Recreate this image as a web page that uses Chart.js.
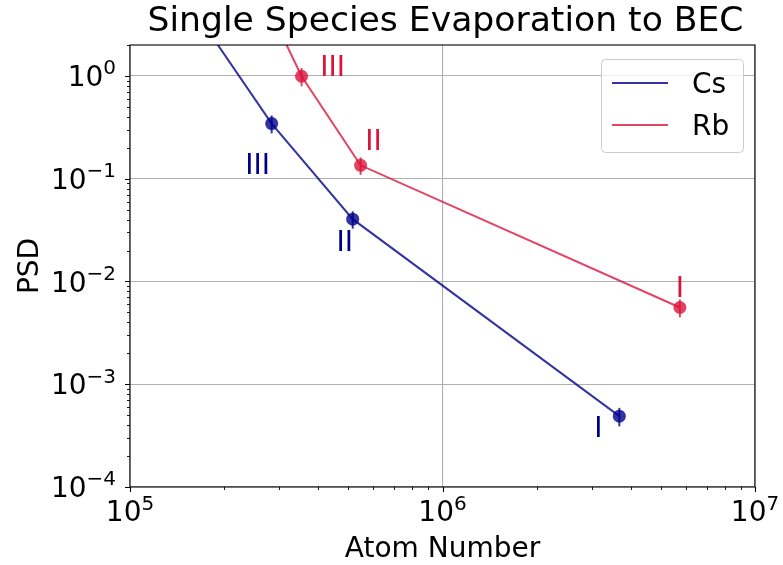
<!DOCTYPE html>
<html>
<head>
<meta charset="utf-8">
<script src="https://cdn.jsdelivr.net/npm/chart.js@4.4.1/dist/chart.umd.min.js"></script>
<style>
  html, body { margin: 0; padding: 0; background: #fff; }
  #wrap { width: 783px; height: 565px; }
</style>
</head>
<body>
<div id="wrap"><canvas id="bec"></canvas></div>
<script>
// (log-log)
const csAtoms = [1.8e5, 2.84e5, 5.16e5, 3.68e6];
const csPSD = [2.61, 0.344, 0.0404, 4.89e-4];
const csErr = [0, 0.068, 0.0078, 1.0e-4];
const rbAtoms = [3.04e5, 3.54e5, 5.47e5, 5.75e6];
const rbPSD = [2.61, 0.993, 0.135, 5.58e-3];
const rbErr = [0, 0.2, 0.026, 1.1e-3];
const stageLabels = ['', 'III', 'II', 'I'];
const xTicks = [1e5, 1e6, 1e7];
const yTicks = [1e-4, 1e-3, 1e-2, 1e-1, 1];

const FONT = "'DejaVu Sans', sans-serif";
const FS = 28;
const CAP = 0.729 * FS;
const csLine = 'rgba(0, 0, 139, 0.8)';
const rbLine = 'rgba(220, 20, 60, 0.8)';

// pixel offsets of the stage labels from their points
const csLabelOff = [null, [-14, 40], [-8, 22], [-21, 11]];
const rbLabelOff = [null, [31, -10.5], [13, -25.5], [0, -20.6]];

function expOf(v) {
  return String(Math.round(Math.log10(v))).replace('-', '\u2212');
}

const extras = {
  id: 'extras',
  beforeDatasetsDraw(chart) {
    const { ctx } = chart;
    const x = chart.scales.x, y = chart.scales.y;
    // error bars
    [[csAtoms, csPSD, csErr, csLine], [rbAtoms, rbPSD, rbErr, rbLine]].forEach(([xs, ys, es, col]) => {
      ctx.save();
      ctx.strokeStyle = col;
      ctx.lineWidth = 2;
      xs.forEach((xv, i) => {
        if (!es[i]) return;
        const px = x.getPixelForValue(xv);
        ctx.beginPath();
        ctx.moveTo(px, y.getPixelForValue(ys[i] - es[i]));
        ctx.lineTo(px, y.getPixelForValue(ys[i] + es[i]));
        ctx.stroke();
      });
      ctx.restore();
    });
  },
  afterDraw(chart) {
    const { ctx, chartArea: a } = chart;
    const x = chart.scales.x, y = chart.scales.y;
    ctx.save();
    // frame
    ctx.strokeStyle = '#000';
    ctx.lineWidth = 1.1;
    ctx.strokeRect(a.left, a.top, a.right - a.left, a.bottom - a.top);
    // major ticks
    ctx.beginPath();
    xTicks.forEach(v => {
      const px = Math.round(x.getPixelForValue(v)) + 0.5;
      ctx.moveTo(px, a.bottom); ctx.lineTo(px, a.bottom + 5);
    });
    yTicks.forEach(v => {
      const py = Math.round(y.getPixelForValue(v)) + 0.5;
      ctx.moveTo(a.left, py); ctx.lineTo(a.left - 5, py);
    });
    ctx.stroke();
    // minor ticks
    ctx.lineWidth = 0.9;
    ctx.beginPath();
    for (let d = 5; d < 7; d++) {
      for (let k = 2; k < 10; k++) {
        const px = Math.round(x.getPixelForValue(k * Math.pow(10, d))) + 0.5;
        ctx.moveTo(px, a.bottom); ctx.lineTo(px, a.bottom + 3);
      }
    }
    for (let d = -4; d <= 0; d++) {
      for (let k = 2; k < 10; k++) {
        const v = k * Math.pow(10, d);
        if (v > y.max) continue;
        const py = Math.round(y.getPixelForValue(v)) + 0.5;
        ctx.moveTo(a.left, py); ctx.lineTo(a.left - 3, py);
      }
    }
    ctx.stroke();

    // tick labels: 10 with raised exponent
    const big = FS + 'px ' + FONT, small = Math.round(FS * 0.7) + 'px ' + FONT;
    ctx.fillStyle = '#000';
    ctx.textBaseline = 'alphabetic';
    ctx.textAlign = 'left';
    function drawPow(v, right, base) {
      const e = expOf(v);
      ctx.font = small;
      const we = ctx.measureText(e).width;
      ctx.font = big;
      const wb = ctx.measureText('10').width;
      const left = right - we - wb;
      ctx.fillText('10', left, base);
      ctx.font = small;
      ctx.fillText(e, left + wb, base - 0.42 * FS);
      return we + wb;
    }
    yTicks.forEach(v => {
      const py = y.getPixelForValue(v);
      drawPow(v, a.left - 14, py + CAP / 2);
    });
    xTicks.forEach(v => {
      const px = x.getPixelForValue(v);
      ctx.font = small;
      const we = ctx.measureText(expOf(v)).width;
      ctx.font = big;
      const wb = ctx.measureText('10').width;
      drawPow(v, px + (we + wb) / 2, a.bottom + 14 + CAP);
    });

    // axis titles
    ctx.font = big;
    ctx.textAlign = 'center';
    ctx.fillText('Atom Number', (a.left + a.right) / 2, 557);
    ctx.save();
    ctx.translate(28 + CAP / 2, (a.top + a.bottom) / 2);
    ctx.rotate(-Math.PI / 2);
    ctx.fillText('PSD', 0, 0);
    ctx.restore();

    // stage labels
    ctx.font = big;
    ctx.textAlign = 'center';
    [[0, csLabelOff, 'darkblue'], [1, rbLabelOff, 'crimson']].forEach(([di, offs, col]) => {
      const meta = chart.getDatasetMeta(di);
      ctx.fillStyle = col;
      stageLabels.forEach((t, i) => {
        if (!t) return;
        const p = meta.data[i];
        ctx.fillText(t, p.x + offs[i][0], p.y + offs[i][1] + CAP / 2);
      });
    });

    // title
    ctx.fillStyle = '#000';
    ctx.font = '34.6px ' + FONT;
    ctx.fillText('Single Species Evaporation to BEC', (a.left + a.right) / 2 + 3, a.top - 14);

    // legend
    const lx = a.right - 154, ly = a.top + 14, lw = 142, lh = 93;
    ctx.fillStyle = 'rgba(255,255,255,0.8)';
    ctx.strokeStyle = '#cccccc';
    ctx.lineWidth = 1;
    ctx.beginPath();
    ctx.roundRect(lx + 0.5, ly + 0.5, lw, lh, 4);
    ctx.fill();
    ctx.stroke();
    ctx.font = big;
    ctx.textAlign = 'left';
    chart.data.datasets.forEach((ds, i) => {
      const yy = ly + 24 + i * 42;
      ctx.strokeStyle = ds.borderColor;
      ctx.lineWidth = 2;
      ctx.beginPath();
      ctx.moveTo(lx + 11, yy); ctx.lineTo(lx + 67, yy);
      ctx.stroke();
      ctx.fillStyle = '#000';
      ctx.fillText(ds.label, lx + 91, yy + CAP / 2);
    });
    ctx.restore();
  }
};

new Chart(document.getElementById('bec'), {
  type: 'line',
  data: {
    datasets: [
      {
        label: 'Cs',
        data: csAtoms.map((v, i) => ({ x: v, y: csPSD[i] })),
        borderColor: csLine,
        backgroundColor: csLine,
        borderWidth: 2,
        pointRadius: csAtoms.map((v, i) => (csErr[i] ? 6.5 : 0)),
        pointBorderWidth: 0,
        tension: 0
      },
      {
        label: 'Rb',
        data: rbAtoms.map((v, i) => ({ x: v, y: rbPSD[i] })),
        borderColor: rbLine,
        backgroundColor: rbLine,
        borderWidth: 2,
        pointRadius: rbAtoms.map((v, i) => (rbErr[i] ? 6.5 : 0)),
        pointBorderWidth: 0,
        tension: 0
      }
    ]
  },
  options: {
    responsive: true,
    maintainAspectRatio: false,
    animation: false,
    layout: { padding: { top: 45, right: 28, left: 0, bottom: 0 } },
    plugins: { legend: { display: false }, tooltip: { enabled: false }, title: { display: false } },
    scales: {
      x: {
        type: 'logarithmic',
        min: 1e5,
        max: 1e7,
        afterBuildTicks: s => { s.ticks = xTicks.map(v => ({ value: v })); },
        afterFit: s => { s.height = 78; },
        grid: { color: '#b0b0b0', lineWidth: 1.1, drawTicks: false },
        border: { display: false },
        ticks: { display: false }
      },
      y: {
        type: 'logarithmic',
        min: 1e-4,
        max: 2,
        afterBuildTicks: s => { s.ticks = yTicks.map(v => ({ value: v })); },
        afterFit: s => { s.width = 130; },
        grid: { color: '#b0b0b0', lineWidth: 1.1, drawTicks: false },
        border: { display: false },
        ticks: { display: false }
      }
    }
  },
  plugins: [extras]
});
</script>
</body>
</html>
